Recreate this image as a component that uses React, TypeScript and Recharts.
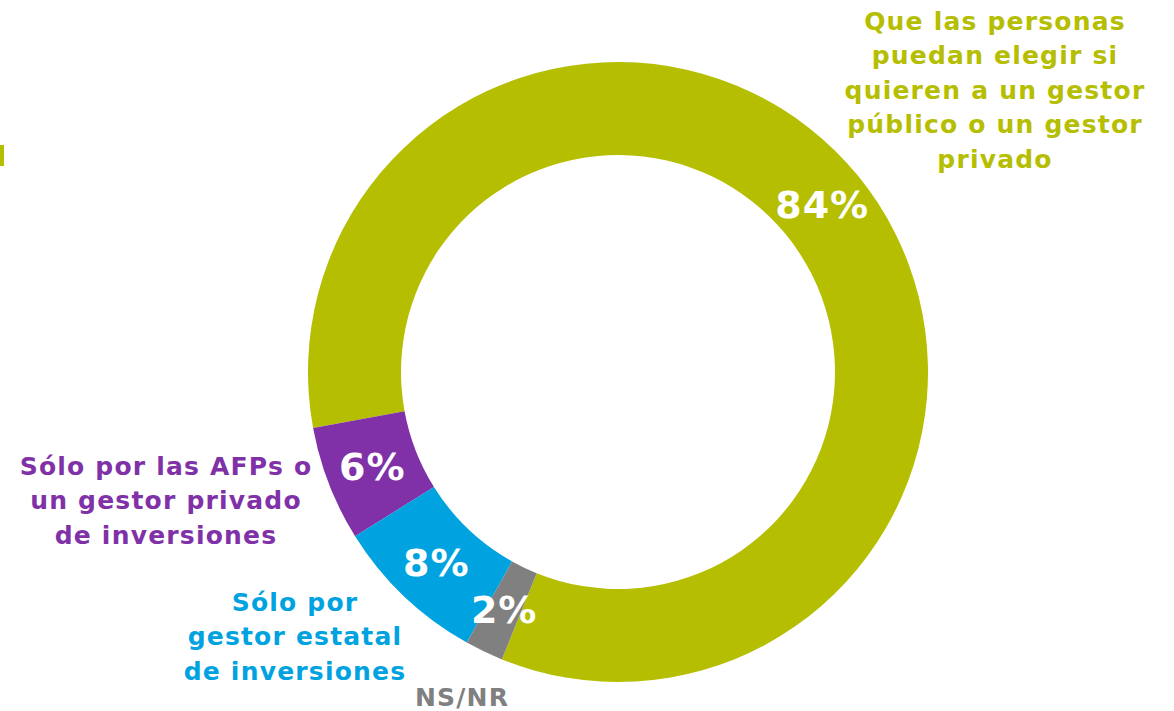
import { Cell, Pie, PieChart } from "recharts";

const categories = [
  "Que las personas puedan elegir si quieren a un gestor público o un gestor privado",
  "Sólo por las AFPs o un gestor privado de inversiones",
  "Sólo por gestor estatal de inversiones",
  "NS/NR",
];
const shares = [84, 6, 8, 2];
const nameLines = [
  ["Que las personas", "puedan elegir si", "quieren a un gestor", "público o un gestor", "privado"],
  ["Sólo por las AFPs o", "un gestor privado", "de inversiones"],
  ["Sólo por", "gestor estatal", "de inversiones"],
  ["NS/NR"],
];
const colors = ["#b5be00", "#8031a7", "#00a3e0", "#808080"];

// where each category name block sits (center x, first baseline y)
const namePos = [
  { x: 995, y: 30 },
  { x: 166, y: 475 },
  { x: 295, y: 611 },
  { x: 462, y: 706 },
];

const data = categories.map((name, i) => ({ name, value: shares[i] }));

const FONT = "'DejaVu Sans', sans-serif";
const RAD = Math.PI / 180;

const renderLabel = (props: any) => {
  const { cx, cy, midAngle, innerRadius, outerRadius, index } = props;
  const r = (innerRadius + outerRadius) / 2;
  const x = cx + r * Math.cos(-midAngle * RAD);
  const y = cy + r * Math.sin(-midAngle * RAD);
  const pos = namePos[index];
  return (
    <g key={`lbl-${index}`}>
      <text
        x={x}
        y={y}
        fill="#ffffff"
        textAnchor="middle"
        dominantBaseline="central"
        fontFamily={FONT}
        fontWeight={700}
        fontSize={38}
        letterSpacing={1}
      >
        {`${shares[index]}%`}
      </text>
      <text
        x={pos.x}
        y={pos.y}
        fill={colors[index]}
        textAnchor="middle"
        fontFamily={FONT}
        fontWeight={700}
        fontSize={25}
        letterSpacing={1.2}
      >
        {nameLines[index].map((line, j) => (
          <tspan key={j} x={pos.x} dy={j === 0 ? 0 : 34.4}>
            {line}
          </tspan>
        ))}
      </text>
    </g>
  );
};

export default function App() {
  return (
    <div style={{ position: "absolute", left: 0, top: 0, width: 1174, height: 711, background: "#fff" }}>
      <div style={{ position: "absolute", left: 0, top: 145, width: 4, height: 21, background: colors[0] }} />
      <PieChart width={1174} height={711} margin={{ top: 0, right: 0, bottom: 0, left: 0 }}>
        <Pie
          data={data}
          dataKey="value"
          nameKey="name"
          cx={618}
          cy={372}
          innerRadius={217}
          outerRadius={310}
          startAngle={248}
          endAngle={608}
          stroke="none"
          label={renderLabel}
          labelLine={false}
          isAnimationActive={false}
        >
          {data.map((entry, i) => (
            <Cell key={entry.name} fill={colors[i]} />
          ))}
        </Pie>
      </PieChart>
    </div>
  );
}
